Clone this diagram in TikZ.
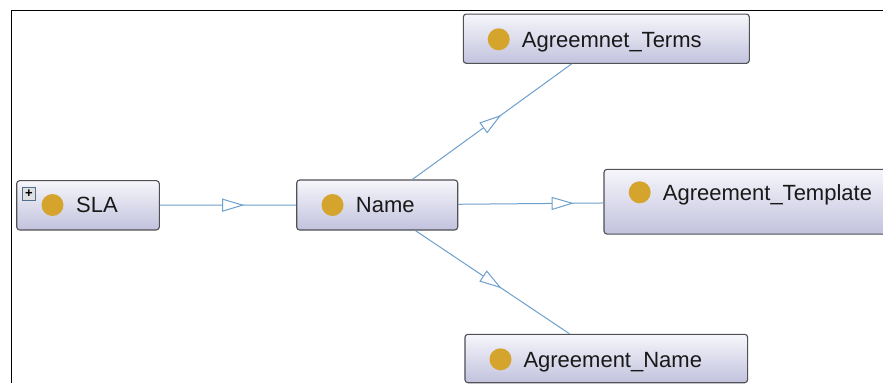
\documentclass[tikz,border=0pt]{standalone}
\usepackage{fontspec}
\setmainfont{Liberation Sans}
\usetikzlibrary{decorations.markings}
\definecolor{boxtop}{RGB}{246,246,251}
\definecolor{boxbot}{RGB}{194,194,222}
\definecolor{boxline}{RGB}{80,80,85}
\definecolor{classdot}{RGB}{212,164,44}
\definecolor{isaline}{RGB}{110,160,205}
\tikzset{
  clsbox/.style={draw=boxline,line width=1.1pt,rounded corners=3pt,
    top color=boxtop,bottom color=boxbot,inner sep=0pt},
  clsdot/.style={circle,fill=classdot,minimum size=22pt,inner sep=0pt},
  clsname/.style={anchor=base west,inner sep=0pt,
    font=\fontsize{22}{24}\selectfont,text=black!90},
  isa/.style={draw=isaline,line width=1pt},
  isamark/.style={postaction=decorate,decoration={markings,
    mark=at position .5 with {\draw[isaline,fill=white,line width=1pt]
      (-10pt,-6pt)--(10pt,0pt)--(-10pt,6pt)--cycle;}}}
}
\begin{document}
\begin{tikzpicture}[x=1pt,y=-1pt]
			\useasboundingbox(0,0)rectangle(883,383);
			\clip(0,0)rectangle(883,383);
			\fill[white](0,0)rectangle(883,383);
			\draw[line width=1.9pt](11.5,383)--(11.5,10.5)--(883,10.5);
			% classes
			\node[clsbox,minimum width=142.6,minimum height=49.3](sla)at(88,205.3){};
			\node[clsbox,minimum width=161,minimum height=50](name)at(377.2,205){};
			\node[clsbox,minimum width=286,minimum height=49.3](terms)at(606.3,38.7){};
			\node[clsbox,minimum width=286,minimum height=64.7](tmpl)at(747,201.7){};
			\node[clsbox,minimum width=282.7,minimum height=48.4](aname)at(606.3,358.5){};
			\node[draw=isaline!70!black,fill=black!12,minimum width=13,minimum height=13,inner sep=0pt,
				font=\fontsize{13}{13}\selectfont\bfseries](plus)at(29,193.5){+};
			\node[clsdot](slaDot)at(52.5,205){};
			\node[clsdot](nameDot)at(332.5,205){};
			\node[clsdot](termsDot)at(498.7,39.3){};
			\node[clsdot](tmplDot)at(639.7,192.3){};
			\node[clsdot](anameDot)at(500.5,359.3){};
			\node[clsname](slaText)at(76,212.8){SLA};
			\node[clsname](nameText)at(355.7,212.8){Name};
			\node[clsname](termsText)at(521.7,47.1){Agreemnet\_Terms};
			\node[clsname](tmplText)at(662.7,200.1){Agreement\_Template};
			\node[clsname](anameText)at(523.3,367.1){Agreement\_Name};
			% subclass links
			\draw[isa](sla)--(name);
			\draw[isa](name)--(terms);
			\draw[isa](name)--(tmpl);
			\draw[isa](name)--(aname);
			\foreach \to in {terms,tmpl,aname}
				\path[isamark](name.center)--(\to.center);
			\path[isamark](sla.center)--(name.center);
		\end{tikzpicture}
\end{document}
